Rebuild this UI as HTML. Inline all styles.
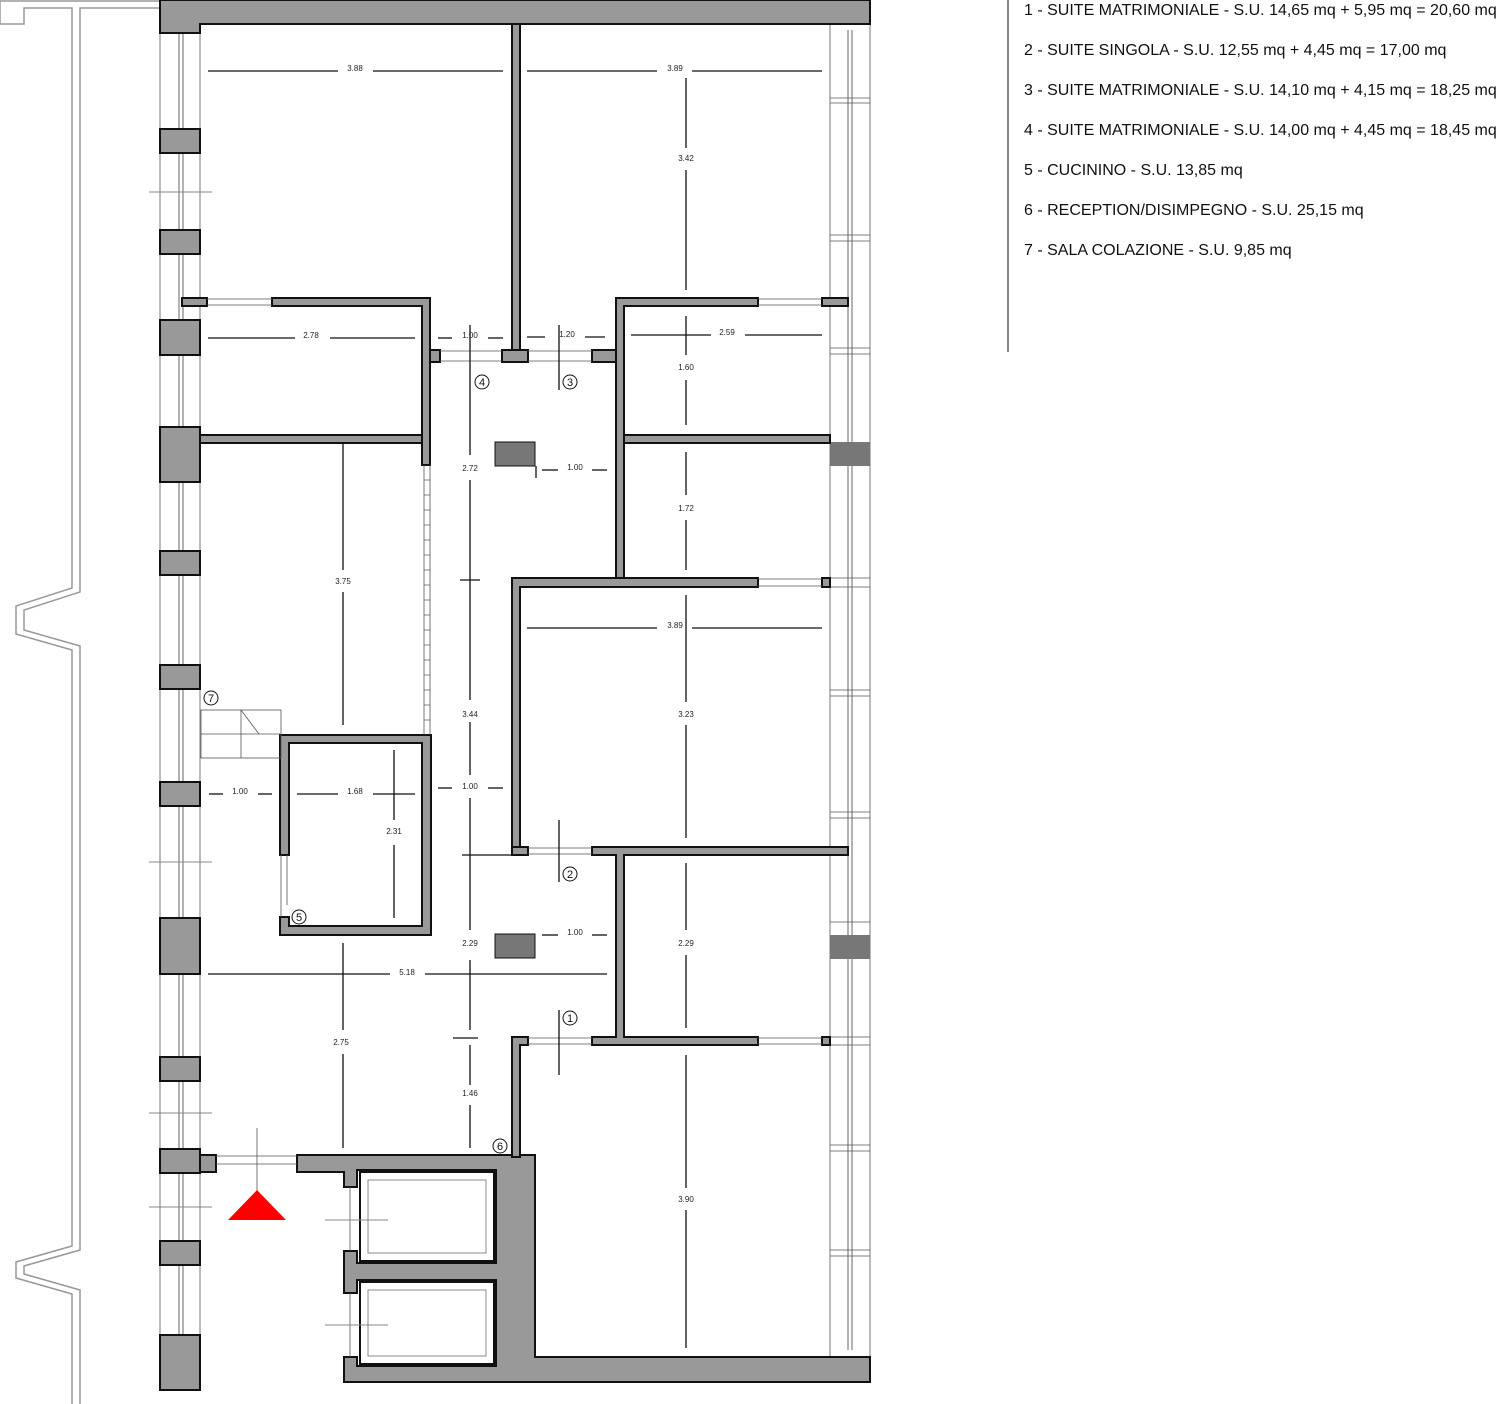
<!DOCTYPE html>
<html><head><meta charset="utf-8"><style>
html,body{margin:0;padding:0;background:#fff;}
svg{display:block;}
.w{fill:#999;stroke:#111;stroke-width:2;}
.p{fill:#999;stroke:#111;stroke-width:2;}
.d{stroke:#111;stroke-width:1.3;fill:none;}
.t{font-family:"Liberation Sans",sans-serif;font-size:8px;fill:#222;text-anchor:middle;}
.g{stroke:#999;stroke-width:1.5;fill:none;}
.th{stroke:#555;stroke-width:0.8;fill:none;}
.c{fill:#fff;stroke:#111;stroke-width:1;}
.cn{font-family:"Liberation Sans",sans-serif;font-size:11px;fill:#111;text-anchor:middle;}
.lg{font-family:"Liberation Sans",sans-serif;font-size:16px;fill:#111;}
</style></head><body>
<svg width="1500" height="1404" viewBox="0 0 1500 1404" xmlns="http://www.w3.org/2000/svg">
<g class="g">
<polyline points="160,1 0,1 0,24 24,24 24,8 72,8 72,588 16,606 16,634 72,650 72,1246 16,1262 16,1278 72,1294 72,1404"/>
<polyline points="160,8 80,8 80,592 24,610 24,630 80,646 80,1250 24,1266 24,1274 80,1290 80,1404"/>
</g>
<line x1="160" y1="0" x2="160" y2="1390" class="th"/>
<line x1="200" y1="24" x2="200" y2="1390" class="th"/>
<line x1="179" y1="30" x2="179" y2="1335" stroke="#666" stroke-width="1"/>
<line x1="183" y1="30" x2="183" y2="1335" stroke="#666" stroke-width="1"/>
<line x1="830" y1="24" x2="830" y2="1357" class="th"/>
<line x1="870" y1="24" x2="870" y2="1357" class="th"/>
<line x1="848" y1="30" x2="848" y2="1350" stroke="#666" stroke-width="1"/>
<line x1="852" y1="30" x2="852" y2="1350" stroke="#666" stroke-width="1"/>
<g class="th">
<line x1="830" y1="98" x2="870" y2="98"/><line x1="830" y1="103" x2="870" y2="103"/>
<line x1="830" y1="235" x2="870" y2="235"/><line x1="830" y1="241" x2="870" y2="241"/>
<line x1="830" y1="348" x2="870" y2="348"/><line x1="830" y1="354" x2="870" y2="354"/>
<line x1="830" y1="578" x2="870" y2="578"/><line x1="830" y1="587" x2="870" y2="587"/>
<line x1="830" y1="690" x2="870" y2="690"/><line x1="830" y1="696" x2="870" y2="696"/>
<line x1="830" y1="812" x2="870" y2="812"/><line x1="830" y1="818" x2="870" y2="818"/>
<line x1="830" y1="922" x2="870" y2="922"/>
<line x1="830" y1="1037" x2="870" y2="1037"/><line x1="830" y1="1045" x2="870" y2="1045"/>
<line x1="830" y1="1145" x2="870" y2="1145"/><line x1="830" y1="1151" x2="870" y2="1151"/>
<line x1="830" y1="1250" x2="870" y2="1250"/><line x1="830" y1="1256" x2="870" y2="1256"/>
</g>
<rect x="830" y="442" width="40" height="24" fill="#777"/>
<rect x="830" y="935" width="40" height="24" fill="#777"/>
<g class="p">
<rect x="160" y="129" width="40" height="24"/>
<rect x="160" y="230" width="40" height="24"/>
<rect x="160" y="320" width="40" height="35"/>
<rect x="160" y="427" width="40" height="55"/>
<rect x="160" y="551" width="40" height="24"/>
<rect x="160" y="665" width="40" height="24"/>
<rect x="160" y="782" width="40" height="24"/>
<rect x="160" y="918" width="40" height="56"/>
<rect x="160" y="1057" width="40" height="24"/>
<rect x="160" y="1149" width="40" height="24"/>
<rect x="200" y="1155" width="16" height="17"/>
<rect x="160" y="1241" width="40" height="24"/>
<rect x="160" y="1335" width="40" height="55"/>
</g>
<polygon class="w" points="160,0 870,0 870,24 200,24 200,33 160,33"/>
<g class="w">
<rect x="512" y="24" width="8" height="330"/>
<rect x="502" y="350" width="26" height="12"/>
<rect x="182" y="298" width="25" height="8"/>
<polygon points="272,298 430,298 430,465 422,465 422,306 272,306"/>
<rect x="430" y="350" width="10" height="12"/>
<rect x="200" y="435" width="222" height="8"/>
<polygon points="616,298 758,298 758,306 624,306 624,580 616,580"/>
<rect x="592" y="350" width="24" height="12"/>
<rect x="822" y="298" width="26" height="8"/>
<rect x="624" y="435" width="206" height="8"/>
<polygon points="512,578 758,578 758,587 520,587 520,855 512,855"/>
<rect x="822" y="578" width="8" height="9"/>
<rect x="512" y="847" width="16" height="8"/>
<polygon points="592,847 848,847 848,855 624,855 624,1037 758,1037 758,1045 592,1045 592,1037 616,1037 616,855 592,855"/>
<rect x="822" y="1037" width="8" height="8"/>
<polygon points="512,1037 528,1037 528,1045 520,1045 520,1157 512,1157"/>
<polygon points="280,735 431,735 431,935 280,935 280,917 289,917 289,926 422,926 422,743 289,743 289,855 280,855"/>
</g>
<rect x="495" y="442" width="40" height="24" style="fill:#777;stroke:#111;stroke-width:1"/>
<rect x="495" y="934" width="40" height="24" style="fill:#777;stroke:#111;stroke-width:1"/>
<polygon class="w" points="297,1155 512,1155 512,1157 520,1157 520,1155 535,1155 535,1357 870,1357 870,1382 344,1382 344,1357 357,1357 357,1366 496,1366 496,1280 357,1280 357,1293 344,1293 344,1251 357,1251 357,1263 496,1263 496,1170 357,1170 357,1187 344,1187 344,1172 297,1172"/>
<rect x="360" y="1172" width="134" height="89" fill="#fff" stroke="#111" stroke-width="2"/>
<rect x="368" y="1180" width="118" height="73" fill="none" stroke="#888" stroke-width="1"/>
<rect x="360" y="1282" width="134" height="82" fill="#fff" stroke="#111" stroke-width="2"/>
<rect x="368" y="1290" width="118" height="66" fill="none" stroke="#888" stroke-width="1"/>
<line x1="350" y1="1187" x2="350" y2="1251" class="th"/>
<line x1="350" y1="1293" x2="350" y2="1357" class="th"/>
<g class="th">
<line x1="207" y1="299" x2="272" y2="299"/><line x1="207" y1="305" x2="272" y2="305"/>
<line x1="758" y1="299" x2="822" y2="299"/><line x1="758" y1="305" x2="822" y2="305"/>
<line x1="440" y1="351" x2="502" y2="351"/><line x1="440" y1="361" x2="502" y2="361"/>
<line x1="528" y1="351" x2="592" y2="351"/><line x1="528" y1="361" x2="592" y2="361"/>
<line x1="758" y1="579" x2="822" y2="579"/><line x1="758" y1="586" x2="822" y2="586"/>
<line x1="528" y1="848" x2="592" y2="848"/><line x1="528" y1="854" x2="592" y2="854"/>
<line x1="528" y1="1038" x2="592" y2="1038"/><line x1="528" y1="1044" x2="592" y2="1044"/>
<line x1="758" y1="1038" x2="822" y2="1038"/><line x1="758" y1="1044" x2="822" y2="1044"/>
<line x1="216" y1="1156" x2="297" y2="1156"/><line x1="216" y1="1164" x2="297" y2="1164"/>
<line x1="281" y1="855" x2="281" y2="917"/><line x1="287" y1="855" x2="287" y2="905"/>
<line x1="424" y1="465" x2="424" y2="735"/><line x1="430" y1="465" x2="430" y2="735"/>
<rect x="201" y="710" width="80" height="48"/>
<line x1="201" y1="734" x2="280" y2="734"/>
<line x1="241" y1="710" x2="241" y2="758"/>
<line x1="241" y1="710" x2="259" y2="734"/>
</g>
<g stroke="#555" stroke-width="0.7">
<line x1="424" y1="480" x2="430" y2="480"/><line x1="424" y1="495" x2="430" y2="495"/><line x1="424" y1="510" x2="430" y2="510"/><line x1="424" y1="525" x2="430" y2="525"/><line x1="424" y1="540" x2="430" y2="540"/><line x1="424" y1="555" x2="430" y2="555"/><line x1="424" y1="570" x2="430" y2="570"/><line x1="424" y1="585" x2="430" y2="585"/><line x1="424" y1="600" x2="430" y2="600"/><line x1="424" y1="615" x2="430" y2="615"/><line x1="424" y1="630" x2="430" y2="630"/><line x1="424" y1="645" x2="430" y2="645"/><line x1="424" y1="660" x2="430" y2="660"/><line x1="424" y1="675" x2="430" y2="675"/><line x1="424" y1="690" x2="430" y2="690"/><line x1="424" y1="705" x2="430" y2="705"/><line x1="424" y1="720" x2="430" y2="720"/>
</g>
<g stroke="#888" stroke-width="1">
<line x1="149" y1="192" x2="212" y2="192"/>
<line x1="149" y1="862" x2="212" y2="862"/>
<line x1="149" y1="1113" x2="212" y2="1113"/>
<line x1="149" y1="1207" x2="212" y2="1207"/>
<line x1="325" y1="1220" x2="388" y2="1220"/>
<line x1="325" y1="1325" x2="388" y2="1325"/>
</g>
<line x1="257" y1="1128" x2="257" y2="1195" class="th"/>
<polygon points="228,1220 286,1220 257,1190" fill="#f00"/>
<g class="d">
<line x1="208" y1="71" x2="338" y2="71"/><line x1="373" y1="71" x2="503" y2="71"/>
<line x1="527" y1="71" x2="657" y2="71"/><line x1="692" y1="71" x2="822" y2="71"/>
<line x1="686" y1="78" x2="686" y2="148"/><line x1="686" y1="170" x2="686" y2="290"/>
<line x1="208" y1="338" x2="295" y2="338"/><line x1="330" y1="338" x2="415" y2="338"/>
<line x1="438" y1="338" x2="452" y2="338"/><line x1="488" y1="338" x2="503" y2="338"/>
<line x1="527" y1="337" x2="545" y2="337"/><line x1="585" y1="337" x2="605" y2="337"/>
<line x1="631" y1="335" x2="711" y2="335"/><line x1="745" y1="335" x2="822" y2="335"/>
<line x1="686" y1="316" x2="686" y2="355"/><line x1="686" y1="380" x2="686" y2="425"/>
<line x1="470" y1="325" x2="470" y2="455"/><line x1="470" y1="480" x2="470" y2="700"/>
<line x1="460" y1="580" x2="480" y2="580"/>
<line x1="559" y1="325" x2="559" y2="390"/>
<line x1="542" y1="470" x2="558" y2="470"/><line x1="592" y1="470" x2="607" y2="470"/>
<line x1="536" y1="466" x2="536" y2="478"/>
<line x1="686" y1="452" x2="686" y2="495"/><line x1="686" y1="520" x2="686" y2="570"/>
<line x1="343" y1="443" x2="343" y2="570"/><line x1="343" y1="592" x2="343" y2="725"/>
<line x1="527" y1="628" x2="657" y2="628"/><line x1="692" y1="628" x2="822" y2="628"/>
<line x1="686" y1="595" x2="686" y2="702"/><line x1="686" y1="725" x2="686" y2="838"/>
<line x1="470" y1="722" x2="470" y2="775"/><line x1="470" y1="798" x2="470" y2="930"/>
<line x1="438" y1="788" x2="452" y2="788"/><line x1="488" y1="788" x2="503" y2="788"/>
<line x1="209" y1="794" x2="223" y2="794"/><line x1="258" y1="794" x2="272" y2="794"/>
<line x1="297" y1="794" x2="338" y2="794"/><line x1="373" y1="794" x2="415" y2="794"/>
<line x1="394" y1="750" x2="394" y2="820"/><line x1="394" y1="845" x2="394" y2="918"/>
<line x1="462" y1="855" x2="512" y2="855"/>
<line x1="559" y1="820" x2="559" y2="882"/>
<line x1="542" y1="935" x2="558" y2="935"/><line x1="592" y1="935" x2="607" y2="935"/>
<line x1="686" y1="863" x2="686" y2="930"/><line x1="686" y1="955" x2="686" y2="1028"/>
<line x1="470" y1="960" x2="470" y2="1030"/>
<line x1="208" y1="974" x2="390" y2="974"/><line x1="425" y1="974" x2="607" y2="974"/>
<line x1="343" y1="943" x2="343" y2="1030"/><line x1="343" y1="1054" x2="343" y2="1148"/>
<line x1="453" y1="1038" x2="478" y2="1038"/>
<line x1="470" y1="1045" x2="470" y2="1085"/><line x1="470" y1="1105" x2="470" y2="1148"/>
<line x1="559" y1="1010" x2="559" y2="1075"/>
<line x1="686" y1="1055" x2="686" y2="1188"/><line x1="686" y1="1210" x2="686" y2="1348"/>
</g>
<g class="t">
<text x="355" y="71">3.88</text><text x="675" y="71">3.89</text><text x="686" y="161">3.42</text>
<text x="311" y="338">2.78</text><text x="470" y="338">1.00</text><text x="567" y="337">1.20</text>
<text x="727" y="335">2.59</text><text x="686" y="370">1.60</text>
<text x="470" y="471">2.72</text><text x="575" y="470">1.00</text><text x="686" y="511">1.72</text>
<text x="343" y="584">3.75</text><text x="675" y="628">3.89</text><text x="686" y="717">3.23</text>
<text x="470" y="717">3.44</text><text x="470" y="789">1.00</text><text x="240" y="794">1.00</text>
<text x="355" y="794">1.68</text><text x="394" y="834">2.31</text>
<text x="575" y="935">1.00</text><text x="470" y="946">2.29</text><text x="686" y="946">2.29</text>
<text x="407" y="975">5.18</text><text x="341" y="1045">2.75</text><text x="470" y="1096">1.46</text>
<text x="686" y="1202">3.90</text>
</g>
<g>
<circle cx="482" cy="382" r="7" class="c"/><text x="482" y="386" class="cn">4</text>
<circle cx="570" cy="382" r="7" class="c"/><text x="570" y="386" class="cn">3</text>
<circle cx="211" cy="698" r="7" class="c"/><text x="211" y="702" class="cn">7</text>
<circle cx="299" cy="917" r="7" class="c"/><text x="299" y="921" class="cn">5</text>
<circle cx="570" cy="874" r="7" class="c"/><text x="570" y="878" class="cn">2</text>
<circle cx="570" cy="1018" r="7" class="c"/><text x="570" y="1022" class="cn">1</text>
<circle cx="500" cy="1146" r="7" class="c"/><text x="500" y="1150" class="cn">6</text>
</g>
<line x1="1008" y1="0" x2="1008" y2="352" stroke="#111" stroke-width="1"/>
<g class="lg">
<text x="1024" y="15">1 - SUITE MATRIMONIALE - S.U. 14,65 mq + 5,95 mq = 20,60 mq</text>
<text x="1024" y="55">2 - SUITE SINGOLA - S.U. 12,55 mq + 4,45 mq = 17,00 mq</text>
<text x="1024" y="95">3 - SUITE MATRIMONIALE - S.U. 14,10 mq + 4,15 mq = 18,25 mq</text>
<text x="1024" y="135">4 - SUITE MATRIMONIALE - S.U. 14,00 mq + 4,45 mq = 18,45 mq</text>
<text x="1024" y="175">5 - CUCININO - S.U. 13,85 mq</text>
<text x="1024" y="215">6 - RECEPTION/DISIMPEGNO - S.U. 25,15 mq</text>
<text x="1024" y="255">7 - SALA COLAZIONE - S.U. 9,85 mq</text>
</g>
</svg>
</body></html>
